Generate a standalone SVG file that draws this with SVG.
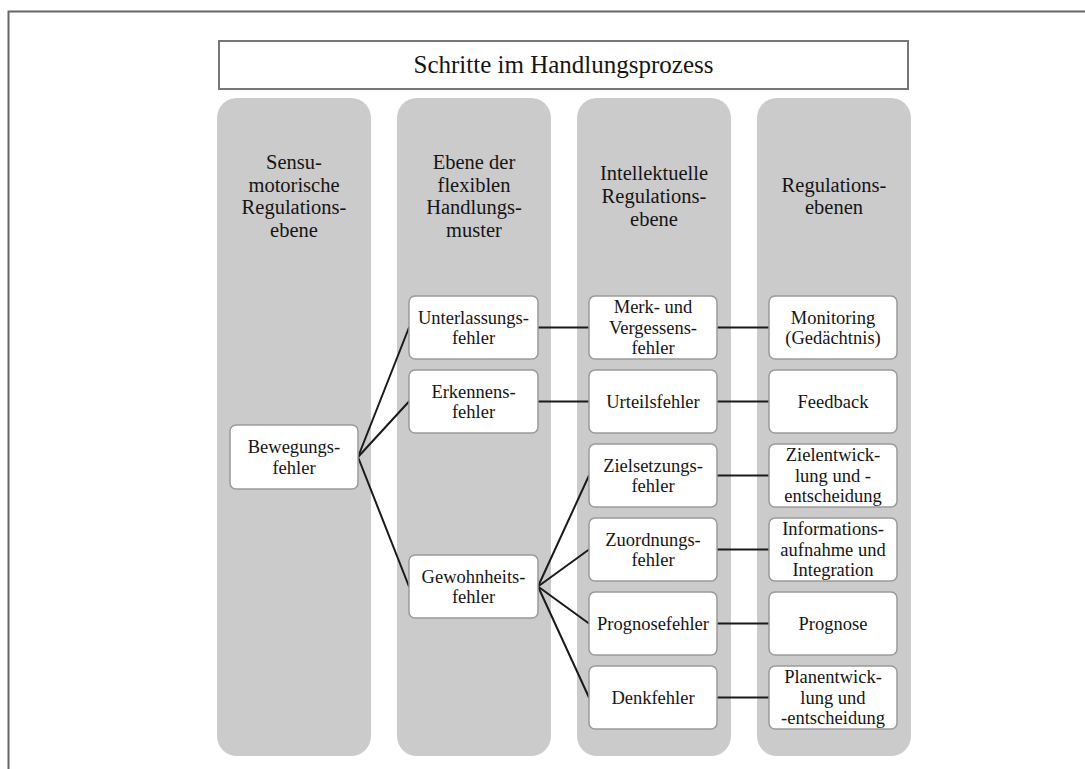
<svg xmlns="http://www.w3.org/2000/svg" width="1085" height="769" viewBox="0 0 1085 769">
<style>
.frame{fill:none;stroke:#666;stroke-width:2}
.title{fill:#fff;stroke:#777;stroke-width:2}
.col{fill:#cbcbcb;stroke:none}
.box{fill:#fff;stroke:#9a9a9a;stroke-width:1.5}
.t{font-family:"Liberation Serif","Times New Roman",serif;fill:#151515;text-anchor:middle}
.tt{font-size:25px}
.th{font-size:20.5px}
.tn{font-size:18.5px}
.conn line{stroke:#1a1a1a;stroke-width:2;stroke-linecap:round}
</style>
<rect width="1085" height="769" fill="#fff"/>
<path class="frame" d="M8.5 769 V11.5 H1085"/>
<g id="title">
<rect class="title" x="219" y="41" width="689" height="48"/>
<text class="t tt" x="563.5" y="73">Schritte im Handlungsprozess</text>
</g>
<g id="columns">
<g id="col1"><rect class="col" x="217" y="98" width="154" height="658" rx="20"/>
<text class="t th"><tspan x="294" y="168.8">Sensu-</tspan><tspan x="294" y="191.6">motorische</tspan><tspan x="294" y="214.4">Regulations-</tspan><tspan x="294" y="237.2">ebene</tspan></text></g>
<g id="col2"><rect class="col" x="397" y="98" width="154" height="658" rx="20"/>
<text class="t th"><tspan x="474" y="168.8">Ebene der</tspan><tspan x="474" y="191.6">flexiblen</tspan><tspan x="474" y="214.4">Handlungs-</tspan><tspan x="474" y="237.2">muster</tspan></text></g>
<g id="col3"><rect class="col" x="577" y="98" width="154" height="658" rx="20"/>
<text class="t th"><tspan x="654" y="180.2">Intellektuelle</tspan><tspan x="654" y="203">Regulations-</tspan><tspan x="654" y="225.8">ebene</tspan></text></g>
<g id="col4"><rect class="col" x="757" y="98" width="154" height="658" rx="20"/>
<text class="t th"><tspan x="834" y="191.6">Regulations-</tspan><tspan x="834" y="214.4">ebenen</tspan></text></g>
</g>
<g id="connectors" class="conn">
<line x1="358" y1="457" x2="409" y2="327.5"/>
<line x1="358" y1="457" x2="409" y2="401.5"/>
<line x1="358" y1="457" x2="409" y2="586.5"/>
<line x1="538" y1="327.5" x2="589" y2="327.5"/>
<line x1="538" y1="401.5" x2="589" y2="401.5"/>
<line x1="538" y1="586.5" x2="589" y2="475.5"/>
<line x1="538" y1="586.5" x2="589" y2="549.5"/>
<line x1="538" y1="586.5" x2="589" y2="623.5"/>
<line x1="538" y1="586.5" x2="589" y2="697.5"/>
<line x1="717" y1="327.5" x2="769" y2="327.5"/>
<line x1="717" y1="401.5" x2="769" y2="401.5"/>
<line x1="717" y1="475.5" x2="769" y2="475.5"/>
<line x1="717" y1="549.5" x2="769" y2="549.5"/>
<line x1="717" y1="623.5" x2="769" y2="623.5"/>
<line x1="717" y1="697.5" x2="769" y2="697.5"/>
</g>
<g id="bewegungsfehler"><rect class="box" x="230" y="425" width="128" height="64" rx="6"/>
<text class="t tn"><tspan x="294" y="453.05">Bewegungs-</tspan><tspan x="294" y="473.55">fehler</tspan></text></g>
<g id="unterlassungsfehler"><rect class="box" x="409" y="296" width="129" height="63" rx="6"/>
<text class="t tn"><tspan x="473.5" y="323.55">Unterlassungs-</tspan><tspan x="473.5" y="344.05">fehler</tspan></text></g>
<g id="erkennensfehler"><rect class="box" x="409" y="370" width="129" height="63" rx="6"/>
<text class="t tn"><tspan x="473.5" y="397.55">Erkennens-</tspan><tspan x="473.5" y="418.05">fehler</tspan></text></g>
<g id="gewohnheitsfehler"><rect class="box" x="409" y="555" width="129" height="63" rx="6"/>
<text class="t tn"><tspan x="473.5" y="582.55">Gewohnheits-</tspan><tspan x="473.5" y="603.05">fehler</tspan></text></g>
<g id="merkfehler"><rect class="box" x="589" y="296" width="128" height="63" rx="6"/>
<text class="t tn"><tspan x="653" y="313.3">Merk- und</tspan><tspan x="653" y="333.8">Vergessens-</tspan><tspan x="653" y="354.3">fehler</tspan></text></g>
<g id="urteilsfehler"><rect class="box" x="589" y="370" width="128" height="63" rx="6"/>
<text class="t tn" x="653" y="407.8">Urteilsfehler</text></g>
<g id="zielsetzungsfehler"><rect class="box" x="589" y="444" width="128" height="63" rx="6"/>
<text class="t tn"><tspan x="653" y="471.55">Zielsetzungs-</tspan><tspan x="653" y="492.05">fehler</tspan></text></g>
<g id="zuordnungsfehler"><rect class="box" x="589" y="518" width="128" height="63" rx="6"/>
<text class="t tn"><tspan x="653" y="545.55">Zuordnungs-</tspan><tspan x="653" y="566.05">fehler</tspan></text></g>
<g id="prognosefehler"><rect class="box" x="589" y="592" width="128" height="63" rx="6"/>
<text class="t tn" x="653" y="629.8">Prognosefehler</text></g>
<g id="denkfehler"><rect class="box" x="589" y="666" width="128" height="63" rx="6"/>
<text class="t tn" x="653" y="703.8">Denkfehler</text></g>
<g id="monitoring"><rect class="box" x="769" y="296" width="128" height="63" rx="6"/>
<text class="t tn"><tspan x="833" y="323.55">Monitoring</tspan><tspan x="833" y="344.05">(Gedächtnis)</tspan></text></g>
<g id="feedback"><rect class="box" x="769" y="370" width="128" height="63" rx="6"/>
<text class="t tn" x="833" y="407.8">Feedback</text></g>
<g id="zielentwicklung"><rect class="box" x="769" y="444" width="128" height="63" rx="6"/>
<text class="t tn"><tspan x="833" y="461.3">Zielentwick-</tspan><tspan x="833" y="481.8">lung und -</tspan><tspan x="833" y="502.3">entscheidung</tspan></text></g>
<g id="informationsaufnahme"><rect class="box" x="769" y="518" width="128" height="63" rx="6"/>
<text class="t tn"><tspan x="833" y="535.3">Informations-</tspan><tspan x="833" y="555.8">aufnahme und</tspan><tspan x="833" y="576.3">Integration</tspan></text></g>
<g id="prognose"><rect class="box" x="769" y="592" width="128" height="63" rx="6"/>
<text class="t tn" x="833" y="629.8">Prognose</text></g>
<g id="planentwicklung"><rect class="box" x="769" y="666" width="128" height="63" rx="6"/>
<text class="t tn"><tspan x="833" y="683.3">Planentwick-</tspan><tspan x="833" y="703.8">lung und</tspan><tspan x="833" y="724.3">-entscheidung</tspan></text></g>
</svg>
